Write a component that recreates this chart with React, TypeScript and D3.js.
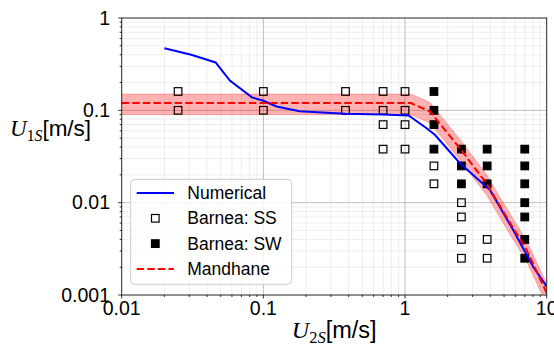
import React from 'react';
import * as d3 from 'd3';

// Numerical solution (blue)
const numX = [0.02, 0.031, 0.046, 0.058, 0.083, 0.1, 0.124, 0.18, 0.38, 0.7, 1.06, 1.42, 1.63, 2.44, 3.98, 5.8, 8.03, 10];
const numY = [0.47, 0.4, 0.33, 0.21, 0.138, 0.127, 0.11, 0.098, 0.092, 0.09, 0.088, 0.064, 0.054, 0.0267, 0.0137, 0.00505, 0.00202, 0.00123];

// Mandhane transition (red dashed) with a +-25% band
const mandX = [0.01, 1.1, 1.5, 2.5, 3.77, 5.2, 7.2, 10];
const mandY = [0.12, 0.12, 0.097, 0.037, 0.016, 0.007, 0.0031, 0.00105];

// Barnea data: stratified smooth (open) and stratified wavy (filled)
const ssX = [0.025, 0.025, 0.1, 0.1, 0.38, 0.38, 0.7, 0.7, 0.7, 0.7, 1, 1, 1, 1, 1.6, 1.6, 2.5, 2.5, 2.5, 2.5, 3.8, 3.8];
const ssY = [0.16, 0.1, 0.16, 0.1, 0.16, 0.1, 0.16, 0.1, 0.07, 0.038, 0.16, 0.1, 0.07, 0.038, 0.025, 0.016, 0.01, 0.007, 0.004, 0.0025, 0.004, 0.0025];
const swX = [1.6, 1.6, 1.6, 1.6, 2.5, 2.5, 2.5, 3.8, 3.8, 3.8, 7, 7, 7, 7, 7, 7, 7];
const swY = [0.16, 0.1, 0.07, 0.038, 0.038, 0.025, 0.016, 0.038, 0.025, 0.016, 0.038, 0.025, 0.016, 0.01, 0.007, 0.004, 0.0025];

const xTicks = [0.01, 0.1, 1, 10];
const xTickLabels = ['0.01', '0.1', '1', '10'];
const yTicks = [0.001, 0.01, 0.1, 1];
const yTickLabels = ['0.001', '0.01', '0.1', '1'];

const legendLabels = ['Numerical', 'Barnea: SS', 'Barnea: SW', 'Mandhane'];

const W = 554;
const H = 349;
const sans = '"Liberation Sans", Arial, sans-serif';
const serif = '"Liberation Serif", "DejaVu Serif", serif';

function AxisLabel({ x, y, sub, anchor, size }: { x: number; y: number; sub: string; anchor: string; size: number }) {
  return (
    <text x={x} y={y} fontSize={size} fill="#000" textAnchor={anchor}>
      <tspan fontFamily={serif} fontStyle="italic" fontSize={size + 0.5}>U</tspan>
      <tspan fontFamily={serif} fontSize={size * 0.7} dy={5}>{sub[0]}</tspan>
      <tspan fontFamily={serif} fontStyle="italic" fontSize={size * 0.7}>{sub[1]}</tspan>
      <tspan fontFamily={sans} dy={-5}>[m/s]</tspan>
    </text>
  );
}

export default function App() {
  const x = d3.scaleLog().domain([0.01, 10]).range([121.7, 546.7]);
  const y = d3.scaleLog().domain([0.001, 1]).range([295, 18]);
  const [x0, x1] = x.range();
  const [y0, y1] = y.range();

  // minor tick values per decade
  const minors = (lo: number, hi: number) => {
    const out: number[] = [];
    for (let d = lo; d < hi; d *= 10) for (let k = 2; k <= 9; k++) out.push(d * k);
    return out;
  };
  const xMinor = minors(0.01, 10);
  const yMinor = minors(0.001, 1);

  const num = numX.map((v, i) => [v, numY[i]] as [number, number]);
  const mand = mandX.map((v, i) => [v, mandY[i]] as [number, number]);

  const line = d3.line<[number, number]>().x((d) => x(d[0])).y((d) => y(d[1]));
  const band = d3
    .area<[number, number]>()
    .x((d) => x(d[0]))
    .y0((d) => y(d[1] * 0.75))
    .y1((d) => y(d[1] * 1.25));
  const bandTop = d3.line<[number, number]>().x((d) => x(d[0])).y((d) => y(d[1] * 1.25));
  const bandBot = d3.line<[number, number]>().x((d) => x(d[0])).y((d) => y(d[1] * 0.75));

  const ms = 7.6;

  // legend
  const lgX = 130.7;
  const lgY = 179.3;
  const rowY = (i: number) => 193 + i * 25.3;

  return (
    <div style={{ position: 'absolute', left: 0, top: 0 }}>
      <svg width={W} height={H} style={{ display: 'block', background: '#fff' }}>
        <defs>
          <clipPath id="plot">
            <rect x={x0} y={y1} width={x1 - x0} height={y0 - y1} />
          </clipPath>
        </defs>

        {/* minor grid */}
        <g stroke="#e8e8e8" strokeWidth={0.8}>
          {xMinor.map((v) => (
            <line key={'xm' + v} x1={x(v)} x2={x(v)} y1={y1} y2={y0} />
          ))}
          {yMinor.map((v) => (
            <line key={'ym' + v} x1={x0} x2={x1} y1={y(v)} y2={y(v)} />
          ))}
        </g>
        {/* major grid */}
        <g stroke="#b0b0b0" strokeWidth={0.8}>
          {xTicks.slice(1, -1).map((v) => (
            <line key={'xg' + v} x1={x(v)} x2={x(v)} y1={y1} y2={y0} />
          ))}
          {yTicks.slice(1, -1).map((v) => (
            <line key={'yg' + v} x1={x0} x2={x1} y1={y(v)} y2={y(v)} />
          ))}
        </g>

        <g clipPath="url(#plot)">
          {/* Mandhane band */}
          <path d={band(mand) || ''} fill="#ff0000" fillOpacity={0.3} />
          <path d={bandTop(mand) || ''} fill="none" stroke="#ff0000" strokeOpacity={0.25} strokeWidth={1} />
          <path d={bandBot(mand) || ''} fill="none" stroke="#ff0000" strokeOpacity={0.25} strokeWidth={1} />

          {/* Barnea markers */}
          {ssX.map((v, i) => (
            <rect
              key={'ss' + i}
              x={x(v) - ms / 2}
              y={y(ssY[i]) - ms / 2}
              width={ms}
              height={ms}
              fill="none"
              stroke="#000"
              strokeWidth={1.2}
            />
          ))}
          {swX.map((v, i) => (
            <rect
              key={'sw' + i}
              x={x(v) - ms / 2}
              y={y(swY[i]) - ms / 2}
              width={ms}
              height={ms}
              fill="#000"
              stroke="#000"
              strokeWidth={1.2}
            />
          ))}

          <path d={line(num) || ''} fill="none" stroke="#0000ff" strokeWidth={2} />
          <path d={line(mand) || ''} fill="none" stroke="#ff0000" strokeWidth={2} strokeDasharray="7.4,3.2" />
        </g>

        {/* frame */}
        <rect x={x0} y={y1} width={x1 - x0} height={y0 - y1} fill="none" stroke="#222" strokeWidth={1} />

        {/* ticks */}
        <g stroke="#000" strokeWidth={0.8}>
          {xTicks.map((v) => (
            <line key={'xt' + v} x1={x(v)} x2={x(v)} y1={y0} y2={y0 + 3.5} />
          ))}
          {xMinor.map((v) => (
            <line key={'xmt' + v} x1={x(v)} x2={x(v)} y1={y0} y2={y0 + 2} />
          ))}
          {yTicks.map((v) => (
            <line key={'yt' + v} x1={x0} x2={x0 - 3.5} y1={y(v)} y2={y(v)} />
          ))}
          {yMinor.map((v) => (
            <line key={'ymt' + v} x1={x0} x2={x0 - 2} y1={y(v)} y2={y(v)} />
          ))}
        </g>

        {/* tick labels */}
        <g fontFamily={sans} fontSize={19.5} fill="#000">
          {xTicks.map((v, i) => (
            <text key={'xl' + v} x={x(v)} y={315} textAnchor="middle">
              {xTickLabels[i]}
            </text>
          ))}
          {yTicks.map((v, i) => (
            <text key={'yl' + v} x={110} y={y(v)} dy="0.35em" textAnchor="end">
              {yTickLabels[i]}
            </text>
          ))}
        </g>

        {/* axis labels */}
        <AxisLabel x={10} y={135.5} sub="1S" anchor="start" size={22.5} />
        <AxisLabel x={(x0 + x1) / 2} y={337.5} sub="2S" anchor="middle" size={23.5} />

        {/* legend */}
        <rect x={lgX} y={lgY} width={161} height={105} rx={4} fill="#fff" fillOpacity={0.8} stroke="#cccccc" strokeWidth={1} />
        <line x1={136.7} x2={174} y1={rowY(0)} y2={rowY(0)} stroke="#0000ff" strokeWidth={2} />
        <rect x={155.3 - ms / 2} y={rowY(1) - ms / 2} width={ms} height={ms} fill="none" stroke="#000" strokeWidth={1.2} />
        <rect x={155.3 - ms / 2} y={rowY(2) - ms / 2} width={ms} height={ms} fill="#000" stroke="#000" strokeWidth={1.2} />
        <line x1={136.7} x2={174} y1={rowY(3)} y2={rowY(3)} stroke="#ff0000" strokeWidth={2} strokeDasharray="7.4,3.2" />
        <g fontFamily={sans} fontSize={17.5} fill="#000">
          {legendLabels.map((t, i) => (
            <text key={t} x={187.3} y={rowY(i)} dy="0.35em">
              {t}
            </text>
          ))}
        </g>
      </svg>
    </div>
  );
}
